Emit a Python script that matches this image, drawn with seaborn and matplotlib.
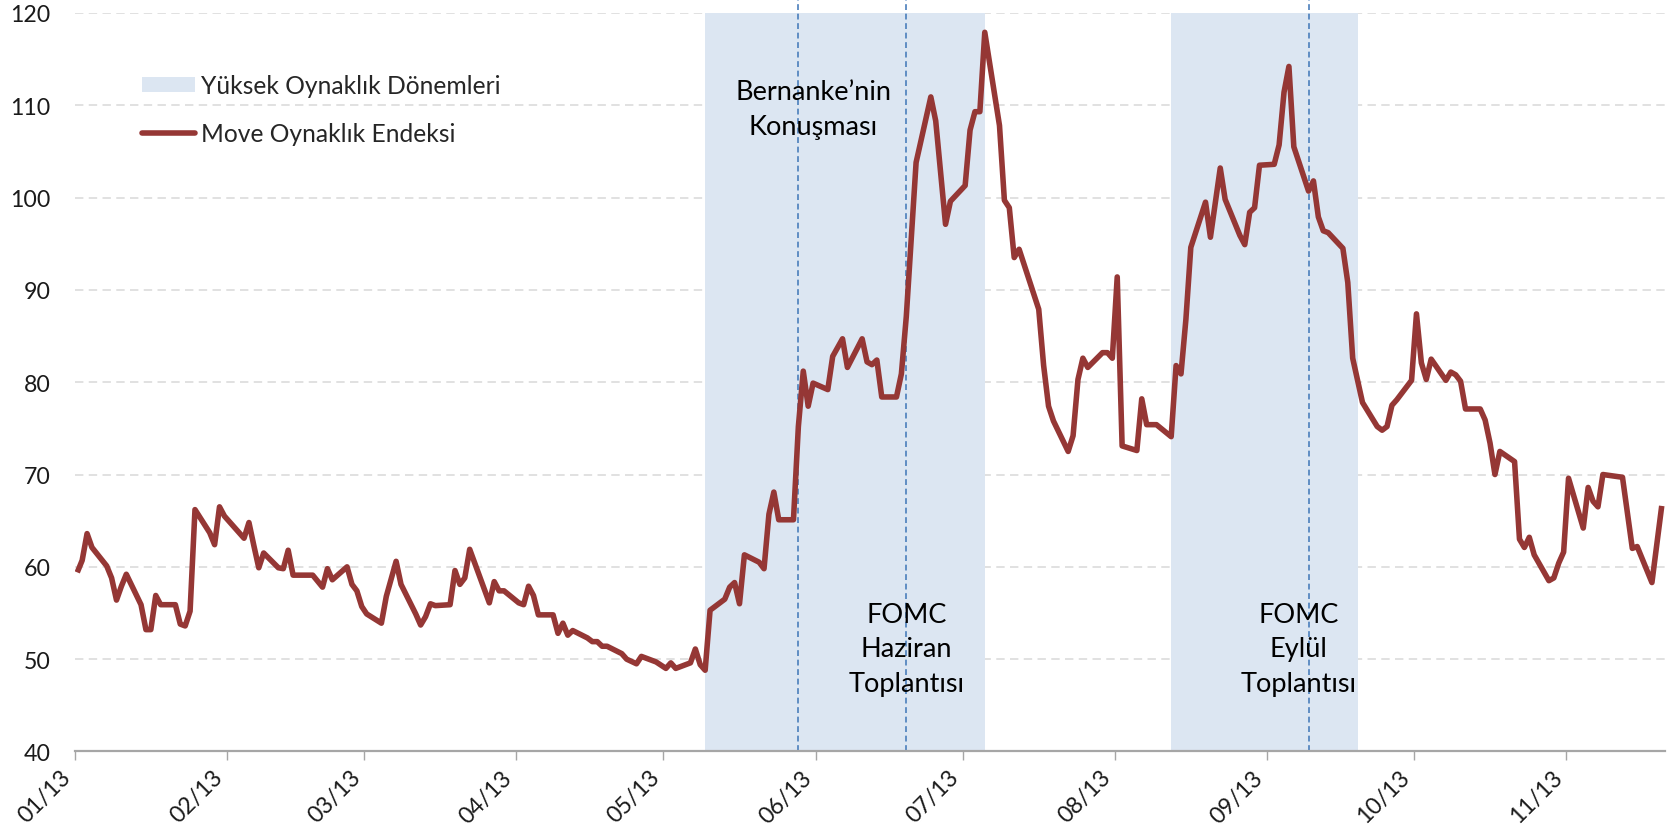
import matplotlib
matplotlib.use("Agg")
import matplotlib.pyplot as plt
import matplotlib.dates as mdates
from matplotlib.patches import Patch
from matplotlib.lines import Line2D
import seaborn as sns
import pandas as pd

# ---------------- data ----------------
dates = [
    "2013-01-01", "2013-01-02", "2013-01-03", "2013-01-04", "2013-01-07", "2013-01-08", "2013-01-09", "2013-01-10", "2013-01-11",
    "2013-01-14", "2013-01-15", "2013-01-16", "2013-01-17", "2013-01-18", "2013-01-21", "2013-01-22", "2013-01-23", "2013-01-24", "2013-01-25",
    "2013-01-28", "2013-01-29", "2013-01-30", "2013-01-31", "2013-02-04", "2013-02-05", "2013-02-06", "2013-02-07", "2013-02-08",
    "2013-02-11", "2013-02-12", "2013-02-13", "2013-02-14", "2013-02-18", "2013-02-20", "2013-02-21", "2013-02-22",
    "2013-02-25", "2013-02-26", "2013-02-27", "2013-02-28", "2013-03-01", "2013-03-04", "2013-03-05", "2013-03-07", "2013-03-08",
    "2013-03-11", "2013-03-12", "2013-03-13", "2013-03-14", "2013-03-15", "2013-03-18", "2013-03-19", "2013-03-20", "2013-03-21", "2013-03-22",
    "2013-03-26", "2013-03-27", "2013-03-28", "2013-03-29", "2013-04-01", "2013-04-02", "2013-04-03", "2013-04-04", "2013-04-05",
    "2013-04-08", "2013-04-09", "2013-04-10", "2013-04-11", "2013-04-12", "2013-04-15", "2013-04-16", "2013-04-17", "2013-04-18", "2013-04-19",
    "2013-04-22", "2013-04-23", "2013-04-25", "2013-04-26", "2013-04-29", "2013-05-01", "2013-05-02", "2013-05-03",
    "2013-05-06", "2013-05-07", "2013-05-08", "2013-05-09", "2013-05-10", "2013-05-13", "2013-05-14", "2013-05-15", "2013-05-16", "2013-05-17",
    "2013-05-20", "2013-05-21", "2013-05-22", "2013-05-23", "2013-05-24", "2013-05-27", "2013-05-28", "2013-05-29", "2013-05-30", "2013-05-31",
    "2013-06-03", "2013-06-04", "2013-06-06", "2013-06-07", "2013-06-10", "2013-06-11", "2013-06-12", "2013-06-13", "2013-06-14",
    "2013-06-17", "2013-06-18", "2013-06-19", "2013-06-21", "2013-06-24", "2013-06-25", "2013-06-27", "2013-06-28",
    "2013-07-01", "2013-07-02", "2013-07-03", "2013-07-04", "2013-07-05", "2013-07-08", "2013-07-09", "2013-07-10", "2013-07-11", "2013-07-12",
    "2013-07-16", "2013-07-17", "2013-07-18", "2013-07-19", "2013-07-22", "2013-07-23", "2013-07-24", "2013-07-25", "2013-07-26",
    "2013-07-29", "2013-07-30", "2013-07-31", "2013-08-01", "2013-08-02", "2013-08-05", "2013-08-06", "2013-08-07", "2013-08-09",
    "2013-08-12", "2013-08-13", "2013-08-14", "2013-08-15", "2013-08-16", "2013-08-19", "2013-08-20", "2013-08-22", "2013-08-23",
    "2013-08-26", "2013-08-27", "2013-08-28", "2013-08-29", "2013-08-30", "2013-09-02", "2013-09-03", "2013-09-04", "2013-09-05", "2013-09-06",
    "2013-09-09", "2013-09-10", "2013-09-11", "2013-09-12", "2013-09-13", "2013-09-16", "2013-09-17", "2013-09-18", "2013-09-20",
    "2013-09-23", "2013-09-24", "2013-09-25", "2013-09-26", "2013-09-27", "2013-09-30", "2013-10-01", "2013-10-02", "2013-10-03", "2013-10-04",
    "2013-10-07", "2013-10-08", "2013-10-09", "2013-10-10", "2013-10-11", "2013-10-14", "2013-10-15", "2013-10-16", "2013-10-17", "2013-10-18",
    "2013-10-21", "2013-10-22", "2013-10-23", "2013-10-24", "2013-10-25", "2013-10-28", "2013-10-29", "2013-10-30", "2013-10-31", "2013-11-01",
    "2013-11-04", "2013-11-05", "2013-11-06", "2013-11-07", "2013-11-08", "2013-11-12", "2013-11-14", "2013-11-15", "2013-11-18", "2013-11-20",
]

move_values = [
    59.4, 60.7, 63.6, 62.1, 60.1, 58.8, 56.4, 57.9, 59.2,
    55.9, 53.2, 53.2, 56.9, 55.9, 55.9, 53.8, 53.6, 55.2, 66.2,
    63.7, 62.4, 66.5, 65.5, 63.1, 64.8, 62.3, 59.9, 61.5,
    59.9, 59.8, 61.8, 59.1, 59.1, 57.8, 59.8, 58.6,
    60.0, 58.1, 57.4, 55.7, 54.9, 53.9, 56.8, 60.6, 58.1,
    54.9, 53.7, 54.6, 56.0, 55.8, 55.9, 59.6, 58.1, 58.8, 61.9,
    56.1, 58.4, 57.4, 57.4, 56.1, 55.9, 57.9, 56.9, 54.8,
    54.8, 52.8, 53.9, 52.6, 53.1, 52.3, 51.9, 51.9, 51.4, 51.4,
    50.6, 50.0, 49.5, 50.3, 49.7, 49.0, 49.6, 49.0,
    49.6, 51.1, 49.4, 48.8, 55.3, 56.5, 57.8, 58.3, 56.0, 61.3,
    60.5, 59.8, 65.7, 68.1, 65.1, 65.1, 75.2, 81.2, 77.4, 79.9,
    79.2, 82.8, 84.7, 81.6, 84.7, 82.2, 81.9, 82.4, 78.4,
    78.4, 80.9, 87.1, 103.8, 110.9, 108.3, 97.1, 99.6,
    101.3, 107.3, 109.3, 109.3, 117.9, 107.8, 99.7, 98.9, 93.5, 94.4,
    87.9, 81.8, 77.4, 75.8, 72.5, 74.2, 80.3, 82.6, 81.6,
    83.2, 83.2, 82.6, 91.4, 73.1, 72.6, 78.2, 75.4, 75.4,
    74.1, 81.8, 80.9, 86.8, 94.6, 99.5, 95.7, 103.2, 99.8,
    95.9, 94.9, 98.4, 98.9, 103.5, 103.6, 105.7, 111.4, 114.2, 105.5,
    100.7, 101.8, 97.9, 96.4, 96.2, 94.5, 90.8, 82.6, 77.8,
    75.2, 74.8, 75.2, 77.5, 78.1, 80.2, 87.4, 82.1, 80.3, 82.5,
    80.2, 81.1, 80.8, 80.1, 77.1, 77.1, 75.9, 73.4, 70.0, 72.5,
    71.4, 63.0, 62.1, 63.2, 61.3, 58.5, 58.8, 60.4, 61.6, 69.6,
    64.2, 68.6, 67.1, 66.5, 70.0, 69.7, 62.0, 62.2, 58.3, 66.6,
]

high_vol_start = ["2013-05-09", "2013-08-12"]
high_vol_end = ["2013-07-05", "2013-09-19"]

event_dates = ["2013-05-28", "2013-06-19", "2013-09-09"]
event_text_lines = [["Bernanke’nin", "Konuşması"],
                    ["FOMC", "Haziran", "Toplantısı"],
                    ["FOMC", "Eylül", "Toplantısı"]]
event_text_shift_days = [3, 0, -2]
event_text_top = [110.65, 54.06, 54.06]

month_ticks = pd.date_range("2013-01-01", "2013-11-01", freq="MS")
y_ticks = [40, 50, 60, 70, 80, 90, 100, 110, 120]
legend_labels = ["Yüksek Oynaklık Dönemleri", "Move Oynaklık Endeksi"]

# ---------------- styling ----------------
LINE_COLOR = "#953735"
SHADE_COLOR = "#dce6f2"
EVENT_COLOR = "#4a7ebb"
GRID_COLOR = "#d9d9d9"
AXIS_COLOR = "#a6a6a6"
TEXT_COLOR = "#1a1a1a"

sns.set_theme(style="white")
plt.rcParams["font.family"] = ["Lato", "DejaVu Sans"]

fig = plt.figure(figsize=(16.76, 8.37), dpi=100)
ax = fig.add_axes([0.04463, 0.10096, 0.94881, 0.88244])

half_day = pd.Timedelta(hours=12)
df = pd.DataFrame({"date": pd.to_datetime(dates) + half_day, "value": move_values})

# shaded high-volatility periods
for s, e in zip(high_vol_start, high_vol_end):
    ax.axvspan(pd.Timestamp(s) + half_day, pd.Timestamp(e) + half_day,
               color=SHADE_COLOR, lw=0, zorder=1)

# event lines
for d in event_dates:
    ax.axvline(pd.Timestamp(d) + half_day, ymin=0, ymax=(121.6 - 40) / 80,
               color=EVENT_COLOR, lw=1.2, linestyle=(0, (3.5, 2.2)),
               clip_on=False, zorder=1.5)

# main line
sns.lineplot(data=df, x="date", y="value", ax=ax, color=LINE_COLOR,
             linewidth=4.0, legend=False, zorder=3,
             solid_joinstyle="round", solid_capstyle="butt")

# axes
ax.set_xlim(pd.Timestamp("2013-01-01"), pd.Timestamp("2013-11-21 04:00"))
ax.set_ylim(40, 120)
ax.set_yticks(y_ticks)
ax.set_xticks(month_ticks)
ax.xaxis.set_major_formatter(mdates.DateFormatter("%m/%y"))
ax.set_xlabel("")
ax.set_ylabel("")

ax.set_axisbelow(True)
ax.yaxis.grid(True, color=GRID_COLOR, linestyle=(0, (5.5, 3.5)), linewidth=1.1)
ax.xaxis.grid(False)

for side in ["left", "top", "right"]:
    ax.spines[side].set_visible(False)
ax.spines["bottom"].set_color(AXIS_COLOR)
ax.spines["bottom"].set_linewidth(1.6)
ax.spines["bottom"].set_zorder(4)

ax.tick_params(axis="y", length=0, pad=17.5, labelsize=16.7, labelcolor=TEXT_COLOR)
ax.tick_params(axis="x", direction="out", length=6.7, width=1.0, color=AXIS_COLOR,
               pad=4, labelsize=16.7, labelcolor=TEXT_COLOR, bottom=True)
for lab in ax.get_xticklabels():
    lab.set_rotation(45)
    lab.set_ha("right")

# annotations
for d, lines, shift, top in zip(event_dates, event_text_lines, event_text_shift_days, event_text_top):
    xpos = pd.Timestamp(d) + half_day + pd.Timedelta(days=shift)
    for i, line in enumerate(lines):
        ax.text(xpos, top - i * 3.75, line, ha="center", va="baseline",
                fontsize=19.5, color="#000000", zorder=5)

# legend
handles = [Patch(facecolor=SHADE_COLOR, edgecolor="none"),
           Line2D([0], [0], color=LINE_COLOR, lw=4.0)]
ax.legend(handles, legend_labels, loc="upper left",
          bbox_to_anchor=(0.0421, 0.917), borderaxespad=0, borderpad=0,
          frameon=False, fontsize=17.7, handlelength=2.15, handleheight=0.57,
          handletextpad=0.25, labelspacing=1.02)

fig.savefig("out.png", dpi=100)
